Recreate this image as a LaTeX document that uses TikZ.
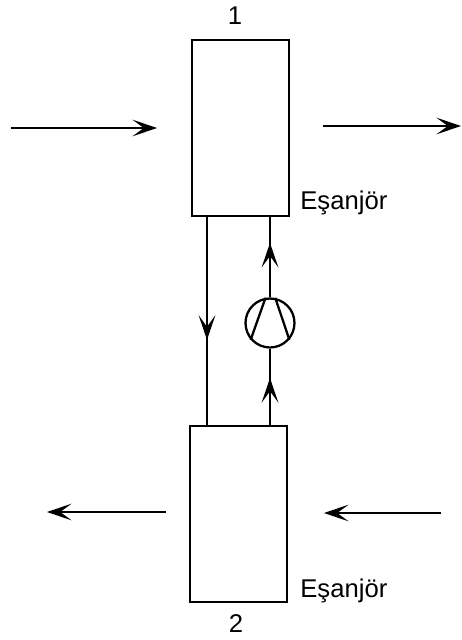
\documentclass[tikz,border=0pt]{standalone}
\usepackage{fontspec}
\setmainfont{Liberation Sans}
\usetikzlibrary{arrows.meta, decorations.markings}
\tikzset{
    esanjor/.style={draw, line width=1.3pt, inner sep=0pt, minimum width=1.94cm},
    etiket/.style={inner sep=0pt, font=\fontsize{14.6}{16}\selectfont},
    ucak/.tip={Stealth[length=14pt, width=9.5pt, inset=6.5pt]},
    akis/.style={line width=1.3pt, -ucak},
    boru/.style={line width=1.3pt},
    boruok/.style={boru, postaction={decorate},
        decoration={markings, mark=at position #1 with {\arrow{ucak}}}},
}
\begin{document}
\begin{tikzpicture}[x=0.02cm, y=-0.02cm]
        \useasboundingbox (0,0) rectangle (462,640);

        % Esanjorler
        \node[esanjor, minimum height=3.52cm] (es1) at (240.5,128) {};
        \node[esanjor, minimum height=3.52cm] (es2) at (238.5,514) {};

        % Kompresor
        \node[circle, draw, line width=1.3pt, inner sep=0pt, minimum size=0.98cm] (komp) at (270,323) {};
        \draw[boru] (komp.100) -- (komp.221);
        \draw[boru] (komp.78) -- (komp.-41);

        % Borular
        \coordinate (a1) at (207,216);
        \coordinate (a2) at (207,426);
        \coordinate (b1) at (270,426);
        \coordinate (b2) at (270,216);
        \draw[boruok=0.59] (a1) -- (a2);
        \draw[boruok=0.62] (b1) -- (komp.south);
        \draw[boruok=0.67] (komp.north) -- (b2);

        % Dis akislar
        \coordinate (g1) at (11,128);
        \coordinate (g2) at (157,128);
        \coordinate (c1) at (323,126);
        \coordinate (c2) at (461,126);
        \coordinate (d1) at (166,512);
        \coordinate (d2) at (47,512);
        \coordinate (h1) at (441,513);
        \coordinate (h2) at (324,513);
        \draw[akis] (g1) -- (g2);
        \draw[akis] (c1) -- (c2);
        \draw[akis] (d1) -- (d2);
        \draw[akis] (h1) -- (h2);

        % Etiketler
        \node[etiket, anchor=base] (n1) at (235,24) {1};
        \node[etiket, anchor=base] (n2) at (236,632) {2};
        \node[etiket, anchor=base west] (t1) at (300,209) {Eşanjör};
        \node[etiket, anchor=base west] (t2) at (300,597) {Eşanjör};
    \end{tikzpicture}
\end{document}
